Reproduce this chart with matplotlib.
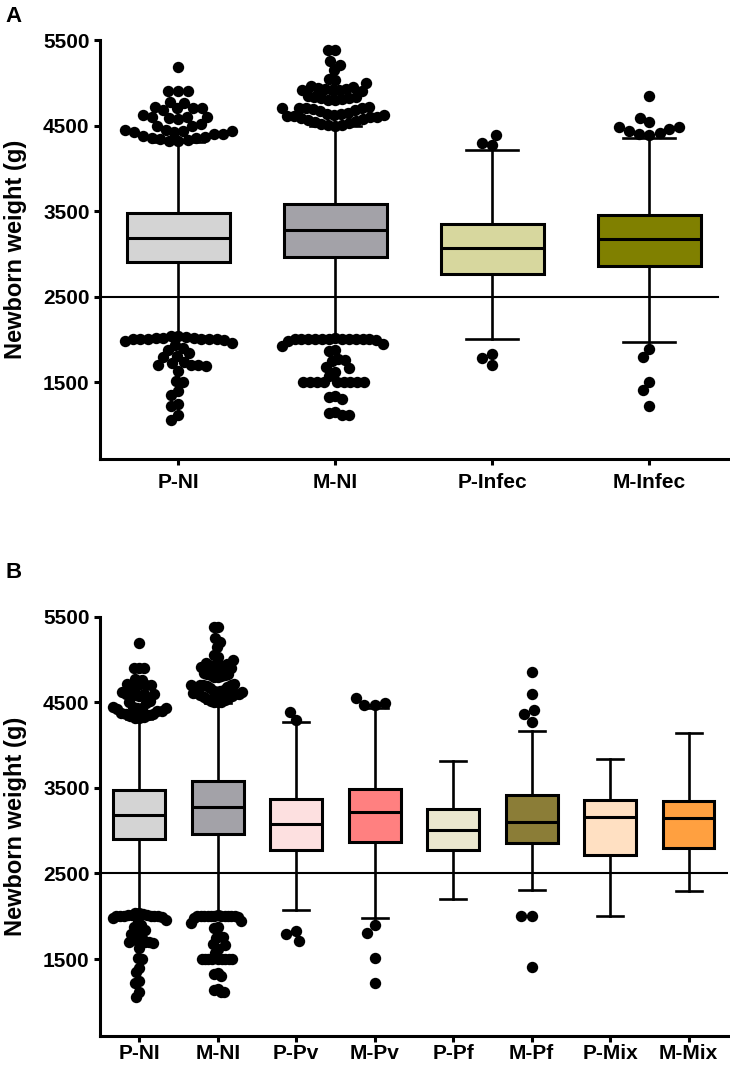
import numpy as np
import matplotlib
matplotlib.use('Agg')
import matplotlib.pyplot as plt

plt.rcParams['font.family'] = ['Liberation Sans', 'DejaVu Sans']
plt.rcParams['font.weight'] = 'bold'

# box statistics (g)
groups = ['P-NI', 'M-NI', 'P-Infec', 'M-Infec', 'P-Pv', 'M-Pv',
          'P-Pf', 'M-Pf', 'P-Mix', 'M-Mix']
q1 = [2905, 2965, 2760, 2860, 2777, 2874, 2777, 2859, 2718, 2796]
med = [3186, 3276, 3069, 3170, 3081, 3217, 3007, 3100, 3163, 3151]
q3 = [3474, 3583, 3349, 3451, 3377, 3494, 3260, 3416, 3357, 3350]
wlo = [2040, 2010, 2002, 1974, 2071, 1982, 2204, 2305, 2001, 2293]
whi = [4310, 4494, 4214, 4358, 4274, 4438, 3813, 4164, 3841, 4149]
colors = ['#d4d4d4', '#a3a2a8', '#d7d79e', '#808000', '#fde0e0', '#ff8080',
          '#ebe7cf', '#8b7d37', '#ffe0c2', '#ffa040']

# outliers
P_NI_hi = [5190, 4900, 4900, 4900, 4780, 4760, 4720, 4700, 4700, 4700, 4680,
           4620, 4600, 4600, 4600, 4590, 4580, 4520, 4500, 4490, 4450, 4450,
           4440, 4440, 4430, 4420, 4400, 4400, 4380, 4370, 4360, 4350, 4340,
           4330, 4320, 4320]
M_NI_hi = [5380, 5380, 5250, 5210, 5150, 5050, 5030, 5000, 4960, 4950, 4940,
           4930, 4930, 4920, 4920, 4910, 4900, 4840, 4830, 4830, 4820, 4820,
           4810, 4800, 4800, 4720, 4710, 4700, 4700, 4700, 4690, 4680, 4670,
           4650, 4640, 4630, 4620, 4620, 4610, 4610, 4600, 4600, 4590, 4580,
           4560, 4550, 4540, 4530, 4520, 4510, 4510, 4500]
P_NI_lo = [2040, 2040, 2030, 2020, 2020, 2010, 2000, 2000, 2000, 2000, 2000,
           2000, 1990, 1980, 1960, 1930, 1900, 1880, 1840, 1810, 1790, 1740,
           1720, 1700, 1700, 1700, 1690, 1630, 1515, 1500, 1400, 1350, 1240,
           1215, 1110, 1060]
M_NI_lo = [2010, 2000, 2000, 2000, 2000, 2000, 2000, 2000, 2000, 2000, 2000,
           2000, 1990, 1980, 1950, 1920, 1880, 1860, 1770, 1760, 1750, 1680,
           1660, 1620, 1570, 1500, 1500, 1500, 1500, 1500, 1500, 1500, 1500,
           1500, 1340, 1330, 1300, 1150, 1140, 1110, 1110]
P_Infec_hi = [4292, 4272, 4385]
P_Infec_lo = [1827, 1694, 1787]
M_Infec_hi = [4849, 4591, 4537, 4479, 4432, 4397, 4385, 4408, 4463, 4486]
M_Infec_lo = [1889, 1792, 1503, 1402, 1215]
P_Pv_hi = [4391, 4293]
P_Pv_lo = [1825, 1708, 1790]
M_Pv_hi = [4547, 4476, 4465, 4496]
M_Pv_lo = [1892, 1806, 1506, 1222]
M_Pf_hi = [4859, 4594, 4418, 4360, 4270]
M_Pf_lo = [2001, 2001, 1404]

hi_out = [P_NI_hi, M_NI_hi, P_Infec_hi, M_Infec_hi, P_Pv_hi, M_Pv_hi,
          [], M_Pf_hi, [], []]
lo_out = [P_NI_lo, M_NI_lo, P_Infec_lo, M_Infec_lo, P_Pv_lo, M_Pv_lo,
          [], M_Pf_lo, [], []]

cats_a = ['P-NI', 'M-NI', 'P-Infec', 'M-Infec']
cats_b = ['P-NI', 'M-NI', 'P-Pv', 'M-Pv', 'P-Pf', 'M-Pf', 'P-Mix', 'M-Mix']

fig = plt.figure(figsize=(7.3, 10.68), dpi=100)


def swarm(vals, ypx, d):
    # simple beeswarm, offsets in pixels
    placed = []
    xs = []
    for v in vals:
        y = v * ypx
        cands = [0.0]
        for a, b in placed:
            dy = abs(y - b)
            if dy < d:
                dx = np.sqrt(d * d - dy * dy)
                cands += [a - dx, a + dx]
        cands.sort(key=abs)
        for c in cands:
            if all((c - a) ** 2 + (y - b) ** 2 >= d * d - 1e-6 for a, b in placed):
                break
        placed.append((c, y))
        xs.append(c)
    return np.array(xs)


def panel(ax, names, line_end, xpad):
    idx = [groups.index(n) for n in names]
    pos = np.arange(len(names))
    ax.set_xlim(-0.5, len(names) - 0.5)
    ax.set_ylim(600, 5500)
    bb = ax.get_position()
    xpx = bb.width * fig.get_figwidth() * fig.dpi / len(names)
    ypx = bb.height * fig.get_figheight() * fig.dpi / 4900

    ax.axhline(2500, xmin=0, xmax=line_end, color='black', lw=1.5, zorder=1)

    stats = [dict(med=med[i], q1=q1[i], q3=q3[i], whislo=wlo[i],
                  whishi=whi[i], fliers=[]) for i in idx]
    res = ax.bxp(stats, positions=pos, widths=0.66, capwidths=0.33,
                 patch_artist=True, showfliers=False,
                 boxprops=dict(linewidth=2.2, edgecolor='black'),
                 medianprops=dict(linewidth=2.2, color='black'),
                 whiskerprops=dict(linewidth=1.9, color='black'),
                 capprops=dict(linewidth=1.9, color='black'))
    for b, i in zip(res['boxes'], idx):
        b.set_facecolor(colors[i])
        b.set_zorder(2)

    for p, i in zip(pos, idx):
        for vals, rev in ((hi_out[i], False), (lo_out[i], True)):
            if not vals:
                continue
            v = np.sort(vals)
            if rev:
                v = v[::-1]
            off = swarm(v, ypx, 10.5)
            lim = 0.34 * xpx
            m = np.abs(off).max()
            if m > lim:
                off = off * lim / m
            ax.plot(p + off / xpx, v, 'o', color='black', ms=8.2,
                    markeredgewidth=0, zorder=3, clip_on=False)

    ax.set_xticks(pos)
    ax.set_xticklabels(names, fontsize=15, fontweight='bold')
    ax.set_yticks([1500, 2500, 3500, 4500, 5500])
    ax.set_yticklabels(['1500', '2500', '3500', '4500', '5500'],
                       fontsize=15, fontweight='bold')
    ax.tick_params(axis='both', width=2.2, length=4.5, color='black')
    ax.tick_params(axis='x', pad=xpad)
    ax.tick_params(axis='y', pad=3)
    for s in ['top', 'right']:
        ax.spines[s].set_visible(False)
    for s in ['left', 'bottom']:
        ax.spines[s].set_linewidth(2.2)


ax_a = fig.add_axes([0.137, 0.5702, 0.860, 0.3923])
panel(ax_a, cats_a, 0.984, 5.5)
ax_b = fig.add_axes([0.137, 0.0300, 0.860, 0.3923])
panel(ax_b, cats_b, 0.998, 1.2)

fig.text(0.021, 0.7664, 'Newborn weight (g)', rotation=90, ha='center',
         va='center', fontsize=17, fontweight='bold')
fig.text(0.021, 0.2261, 'Newborn weight (g)', rotation=90, ha='center',
         va='center', fontsize=17, fontweight='bold')
fig.text(0.008, 0.985, 'A', ha='left', va='center', fontsize=16, fontweight='bold')
fig.text(0.008, 0.4635, 'B', ha='left', va='center', fontsize=16, fontweight='bold')

fig.savefig('out.png', dpi=100)
